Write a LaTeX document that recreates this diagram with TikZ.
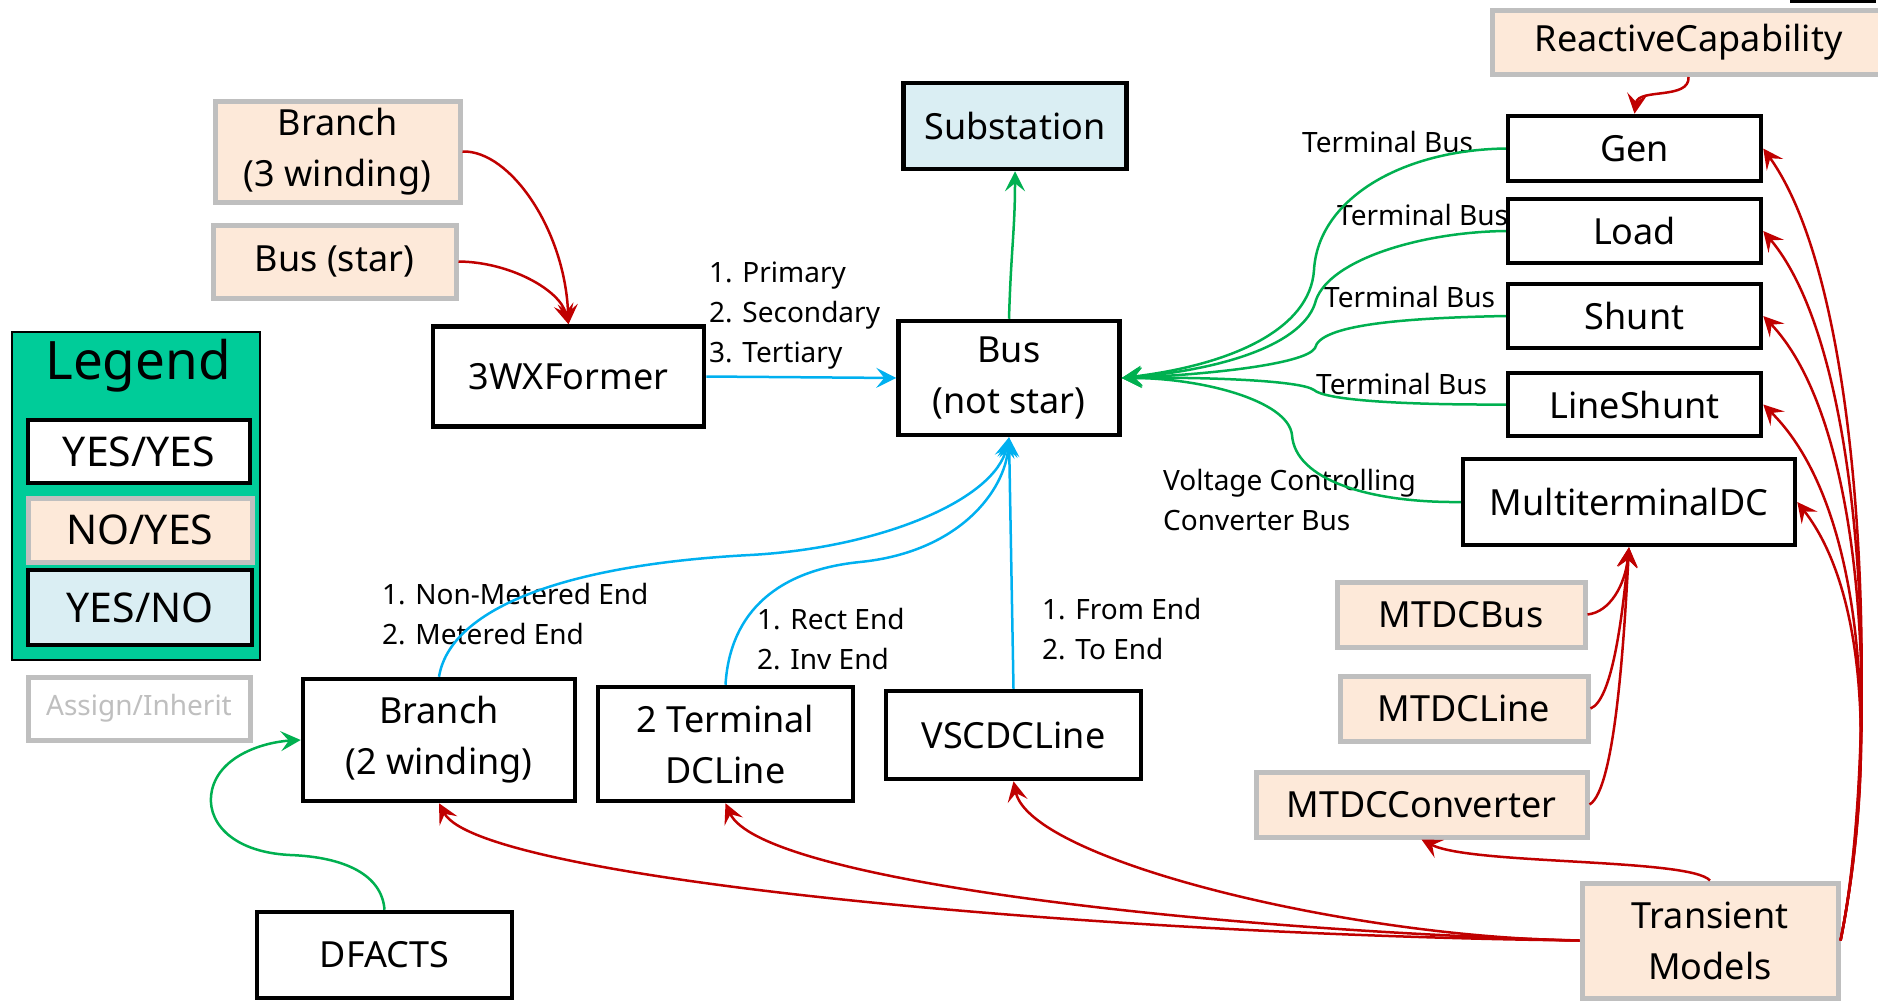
\documentclass[tikz,border=0pt]{standalone}
\usepackage{fontspec}
\setmainfont{Noto Sans}
\usetikzlibrary{arrows.meta}
\definecolor{peach}{HTML}{FDE9D9}
\definecolor{grayb}{HTML}{BFBFBF}
\definecolor{lblue}{HTML}{DAEEF3}
\definecolor{legg}{HTML}{00CC99}
\definecolor{ared}{HTML}{C00000}
\definecolor{ablue}{HTML}{00B0F0}
\definecolor{agreen}{HTML}{00B050}
\begin{document}
\begin{tikzpicture}[x=1pt,y=-1pt,
  base/.style={rectangle, inner sep=0pt, align=center, font=\fontsize{36}{51}\selectfont},
  yy/.style={base, draw=black, line width=4.5pt, fill=white},
  ny/.style={base, draw=grayb, line width=5pt, fill=peach},
  yn/.style={base, draw=black, line width=4.5pt, fill=lblue},
  lbl/.style={anchor=west, align=left, inner sep=0pt, font=\fontsize{28}{40}\selectfont},
  tipa/.style={-{Stealth[length=20pt,width=20pt,inset=8pt]}},
  redc/.style={tipa, draw=ared, line width=2.5pt},
  bluec/.style={tipa, draw=ablue, line width=2.5pt},
  greenc/.style={tipa, draw=agreen, line width=2.5pt}
]
\useasboundingbox (0,0) rectangle (1878,1001);

% fragment at top right
\draw[line width=3pt] (1790,1.5) -- (1876,1.5);

% legend
\node[draw=black, line width=2pt, fill=legg, minimum width=248pt, minimum height=328pt, inner sep=0pt] (legend) at (136,496) {};
\node[font=\fontsize{53}{60}\selectfont, inner sep=0pt] (legt) at (138,366) {Legend};
\node[yy, font=\fontsize{41}{48}\selectfont, minimum width=222pt, minimum height=63pt] (lyy) at (139,451.5) {YES/YES};
\node[ny, font=\fontsize{41}{48}\selectfont, minimum width=224pt, minimum height=64pt] (lny) at (140,530) {NO/YES};
\node[yn, font=\fontsize{41}{48}\selectfont, minimum width=224pt, minimum height=75pt] (lyn) at (140,607.5) {YES/NO};
\node[base, draw=grayb, line width=5pt, fill=white, text=grayb, font=\fontsize{28}{34}\selectfont, minimum width=222pt, minimum height=63pt] (assign) at (139,708.5) {Assign/Inherit};

% main nodes
\node[yn, minimum width=223pt, minimum height=86pt] (sub) at (1015,126) {Substation};
\node[yy, minimum width=221pt, minimum height=114pt] (bus) at (1009,378) {Bus\\(not star)};
\node[yy, minimum width=271pt, minimum height=100pt] (wx) at (568.5,376.5) {3WXFormer};
\node[ny, minimum width=245pt, minimum height=101pt] (br3) at (337.5,151.5) {Branch\\(3 winding)};
\node[ny, minimum width=243pt, minimum height=73pt] (bstar) at (334.5,261.5) {Bus (star)};
\node[yy, minimum width=272pt, minimum height=122pt] (br2) at (439,740) {Branch\\(2 winding)};
\node[yy, minimum width=255pt, minimum height=114pt] (tdc) at (725.5,744) {2 Terminal\\DCLine};
\node[yy, minimum width=255pt, minimum height=88pt] (vsc) at (1013.5,735) {VSCDCLine};
\node[yy, minimum width=255pt, minimum height=86pt] (dfacts) at (384.5,955) {DFACTS};
\node[ny, minimum width=248pt, minimum height=65pt] (mbus) at (1461,614.5) {MTDCBus};
\node[ny, minimum width=248pt, minimum height=65pt] (mline) at (1464,708.5) {MTDCLine};
\node[ny, minimum width=331pt, minimum height=65pt] (mconv) at (1421.5,804.5) {MTDCConverter};
\node[ny, minimum width=256pt, minimum height=115pt] (trans) at (1710,940.5) {Transient\\Models};
\node[yy, minimum width=253pt, minimum height=65pt] (gen) at (1634.5,148.5) {Gen};
\node[yy, minimum width=253pt, minimum height=64pt] (load) at (1634.5,231) {Load};
\node[yy, minimum width=253pt, minimum height=64pt] (shunt) at (1634.5,316) {Shunt};
\node[yy, minimum width=253pt, minimum height=63pt] (lshunt) at (1634.5,404.5) {LineShunt};
\node[yy, minimum width=332pt, minimum height=86pt] (mtdc) at (1629,502) {MultiterminalDC};
\node[ny, minimum width=393pt, minimum height=64pt] (react) at (1688.5,42.5) {ReactiveCapability};

% labels
\node[lbl] (lp) at (709,316) {1. Primary\\2. Secondary\\3. Tertiary};
\node[lbl] (tb1) at (1302,142) {Terminal Bus};
\node[lbl] (tb2) at (1337,215) {Terminal Bus};
\node[lbl] (tb3) at (1324,297) {Terminal Bus};
\node[lbl] (tb4) at (1316,384) {Terminal Bus};
\node[lbl] (vcc) at (1163,499.5) {Voltage Controlling\\Converter Bus};
\node[lbl] (lnm) at (382,614) {1. Non-Metered End\\2. Metered End};
\node[lbl] (lre) at (757,639) {1. Rect End\\2. Inv End};
\node[lbl] (lfe) at (1042,629) {1. From End\\2. To End};

% connectors
\draw[redc] (br3.east) .. controls (510,150) and (565,230) .. (wx.north);
\draw[redc] (bstar.east) .. controls (510,262) and (560,290) .. (wx.north);
\draw[bluec] (wx.east) -- (bus.west);
\draw[greenc] (bus.north) .. controls (1011,250) and (1015,230) .. (sub.south);

\draw[greenc] (gen.west) .. controls (1400,150) and (1318,200) .. (1314,270) .. controls (1310,330) and (1230,365) .. (bus.east);
\draw[greenc] (load.west) .. controls (1420,232) and (1330,260) .. (1316,300) .. controls (1305,345) and (1220,370) .. (bus.east);
\draw[greenc] (shunt.west) .. controls (1400,318) and (1320,325) .. (1315,348) .. controls (1305,365) and (1200,375) .. (bus.east);
\draw[greenc] (lshunt.west) .. controls (1400,405) and (1325,400) .. (1314,390) .. controls (1300,380) and (1200,377) .. (bus.east);
\draw[greenc] (mtdc.west) .. controls (1370,503) and (1295,480) .. (1292,435) .. controls (1288,400) and (1200,378) .. (bus.east);

\draw[redc] (react.south) .. controls (1690,100) and (1638,88) .. (gen.north);
\draw[redc] (trans.east) .. controls (1878,760) and (1872,300) .. (gen.east);
\draw[redc] (trans.east) .. controls (1878,760) and (1872,360) .. (load.east);
\draw[redc] (trans.east) .. controls (1878,760) and (1872,430) .. (shunt.east);
\draw[redc] (trans.east) .. controls (1877,760) and (1870,510) .. (lshunt.east);
\draw[redc] (trans.east) .. controls (1876,760) and (1866,590) .. (mtdc.east);

\draw[redc] (mbus.east) .. controls (1610,612) and (1625,585) .. (mtdc.south);
\draw[redc] (mline.east) .. controls (1612,700) and (1622,620) .. (mtdc.south);
\draw[redc] (mconv.east) .. controls (1615,790) and (1624,640) .. (mtdc.south);
\draw[redc] (trans.north) .. controls (1690,858) and (1470,865) .. (mconv.south);

\draw[redc] (trans.west) .. controls (1350,938) and (1030,860) .. (vsc.south);
\draw[redc] (trans.west) .. controls (1200,930) and (760,880) .. (tdc.south);
\draw[redc] (trans.west) .. controls (1100,935) and (480,880) .. (br2.south);

\draw[bluec] (br2.north) .. controls (450,610) and (560,565) .. (750,555) .. controls (880,548) and (995,500) .. (bus.south);
\draw[bluec] (tdc.north) .. controls (730,610) and (780,570) .. (860,562) .. controls (960,552) and (1005,490) .. (bus.south);
\draw[bluec] (vsc.north) -- (bus.south);

\draw[greenc] (dfacts.north) .. controls (382,875) and (345,857) .. (290,855) .. controls (230,852) and (205,820) .. (212,790) .. controls (220,755) and (265,742) .. (br2.west);
\end{tikzpicture}
\end{document}
